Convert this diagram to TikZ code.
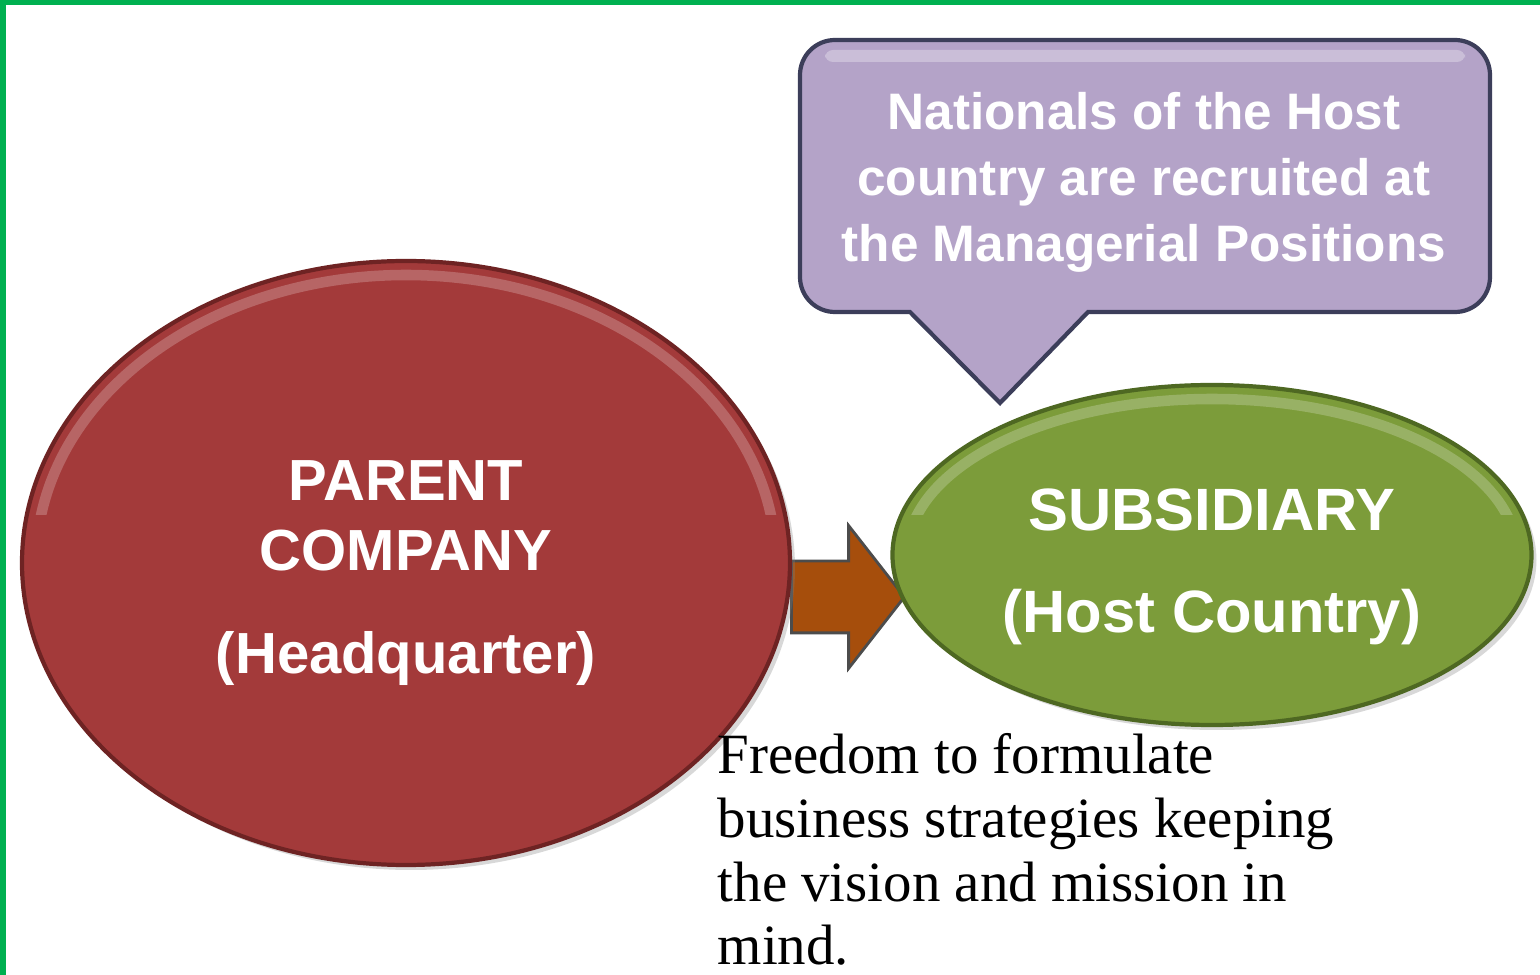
\documentclass[tikz,border=0pt]{standalone}
\usepackage{fontspec}
\setmainfont{Liberation Serif}
\newfontfamily\labelfont{Liberation Sans}
\usetikzlibrary{shapes}
\usetikzlibrary{shapes.arrows}
\usetikzlibrary{shadows}

\definecolor{framegreen}{RGB}{0,176,80}
\definecolor{parentred}{RGB}{163,58,58}
\definecolor{parentrim}{RGB}{110,35,35}
\definecolor{subgreen}{RGB}{124,156,58}
\definecolor{subrim}{RGB}{78,104,34}
\definecolor{flowbrown}{RGB}{166,78,12}
\definecolor{noteviolet}{RGB}{180,163,200}
\definecolor{noterim}{RGB}{60,62,90}

\begin{document}
\begin{tikzpicture}
			\tikzstyle{bubble}=[ellipse,inner sep=0pt,line width=1.2pt,drop shadow={opacity=0.3,shadow xshift=0.05cm,shadow yshift=-0.05cm}]
			\tikzstyle{bubbletext}=[align=center,text=white,inner sep=0pt]
			\tikzstyle{gloss}=[white,opacity=0.22,line width=3pt]
			\tikzstyle{flow}=[single arrow,fill=flowbrown,draw=black!70,line width=0.8pt,inner xsep=0pt,inner ysep=0.345cm,minimum height=1.13cm,single arrow head extend=0.355cm,single arrow tip angle=104]
			\tikzstyle{note}=[fill=noteviolet,draw=noterim,line width=1.2pt]

			\useasboundingbox (0,0) rectangle (15.4,9.75);
			\fill[white] (0,0) rectangle (15.4,9.75);
			\fill[framegreen] (0,9.70) rectangle (15.4,9.75);
			\fill[framegreen] (0,0) rectangle (0.06,9.75);

			% speech bubble above the subsidiary
			\coordinate (tip) at (10.0,5.72);
			\draw[note] (tip) -- (9.1,6.63) [rounded corners=0.35cm] -- (8.0,6.63) -- (8.0,9.35) -- (14.9,9.35) -- (14.9,6.63) [sharp corners] -- (10.88,6.63) -- cycle;
			\fill[white,opacity=0.3,rounded corners=0.08cm] (8.25,9.13) rectangle (14.65,9.25);
			\node[text=white,align=center,font=\labelfont\bfseries\fontsize{14.6}{18.8}\selectfont] (hostnote) at (11.44,7.93) {Nationals of the Host\\country are recruited at\\the Managerial Positions};

			\node[flow,anchor=tail] (move) at (7.9,3.78) {};

			\node[bubble,fill=parentred,draw=parentrim,minimum width=7.68cm,minimum height=6.04cm] (parent) at (4.06,4.12) {};
			\node[bubble,fill=subgreen,draw=subrim,minimum width=6.39cm,minimum height=3.4cm] (subsidiary) at (12.12,4.2) {};

			% light rim along the upper edges
			\begin{scope}
				\clip (0,4.6) rectangle (15.4,7.3);
				\draw[gloss] (parent.center) ellipse (3.7cm and 2.88cm);
				\draw[gloss] (subsidiary.center) ellipse (3.05cm and 1.56cm);
			\end{scope}

			\node[bubbletext,font=\labelfont\bfseries\fontsize{16.5}{20}\selectfont,yshift=-0.1cm] (parenttext) at (parent.center) {PARENT\\COMPANY\\[0.32cm](Headquarter)};
			\node[bubbletext,font=\labelfont\bfseries\fontsize{17}{20.4}\selectfont,yshift=-0.12cm] (subsidiarytext) at (subsidiary.center) {SUBSIDIARY\\[8.5pt](Host Country)};

			\node[anchor=north west,inner sep=0pt,align=left,font=\fontsize{16.2}{18.1}\selectfont] (freedom) at (7.17,2.42) {Freedom to formulate\\business strategies keeping\\the vision and mission in\\mind.};
\end{tikzpicture}
\end{document}
